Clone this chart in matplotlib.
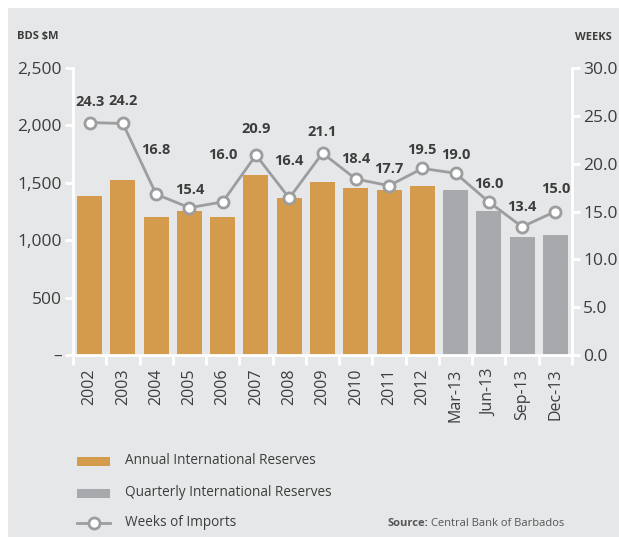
"""International reserves and weeks of import cover, 2002 - Dec 2013."""

import numpy as np
import matplotlib.pyplot as plt
from matplotlib.patches import Rectangle
from matplotlib.ticker import FixedLocator, FuncFormatter

# data
periods = ['2002', '2003', '2004', '2005', '2006', '2007', '2008', '2009',
           '2010', '2011', '2012', 'Mar-13', 'Jun-13', 'Sep-13', 'Dec-13']
reserves = [1385, 1524, 1205, 1254, 1205, 1568, 1370, 1507,
            1457, 1437, 1472, 1437, 1254, 1030, 1048]
is_quarterly = [False] * 11 + [True] * 4
weeks = [24.3, 24.2, 16.8, 15.4, 16.0, 20.9, 16.4, 21.1,
         18.4, 17.7, 19.5, 19.0, 16.0, 13.4, 15.0]
# label offsets (points above the marker), some lifted clear of the line
label_offsets = [10, 11, 27, 8, 29, 14, 22, 10, 9, 7, 8, 8, 8, 9, 11]

BG = '#E6E7E8'
ORANGE = '#D49B4C'
GREY_BAR = '#A8A9AC'
LINE = '#9C9D9F'
TEXT = '#3D3D3D'

plt.rcParams['font.family'] = ['Open Sans', 'DejaVu Sans']

fig = plt.figure(figsize=(6.19, 5.37), dpi=100, facecolor='white')
# grey panel (white strip at top/left as in the source page)
fig.patches.append(Rectangle((8 / 619, 0), 1, 1 - 8 / 537,
                             transform=fig.transFigure, facecolor=BG,
                             edgecolor='none', zorder=-1))

ax = fig.add_axes([73 / 619, 1 - 355 / 537, 499 / 619, 287 / 537])
ax.set_facecolor('none')
x = np.arange(len(periods))
colors = [GREY_BAR if q else ORANGE for q in is_quarterly]
ax.bar(x, reserves, width=0.75, color=colors, zorder=2)

ax.set_xlim(-0.5, len(periods) - 0.5)
ax.set_ylim(0, 2500)
ax.yaxis.set_major_locator(FixedLocator([0, 500, 1000, 1500, 2000, 2500]))
ax.yaxis.set_major_formatter(FuncFormatter(
    lambda v, p: '–' if v == 0 else f'{v:,.0f}'))
ax.set_xticks(x)
ax.set_xticklabels(periods, rotation=90)
ax.xaxis.set_minor_locator(FixedLocator(np.arange(-0.5, len(periods), 1.0)))
ax.tick_params(axis='x', which='major', length=0, pad=10,
               labelsize=11.5, labelcolor=TEXT)
ax.tick_params(axis='x', which='minor', length=7, width=2, color='white',
               direction='out')
ax.tick_params(axis='y', length=6, width=2, color='white', pad=2,
               labelsize=12.5, labelcolor=TEXT)

for side in ['top', 'right']:
    ax.spines[side].set_visible(False)
for side in ['left', 'bottom']:
    ax.spines[side].set_color('white')
    ax.spines[side].set_linewidth(2)

# weeks of imports on the right axis
ax2 = ax.twinx()
ax2.set_ylim(0, 30)
ax2.yaxis.set_major_locator(FixedLocator(np.arange(0, 31, 5)))
ax2.yaxis.set_major_formatter(FuncFormatter(lambda v, p: f'{v:.1f}'))
ax2.tick_params(axis='y', length=6, width=2, color='white', pad=2,
                labelsize=12.5, labelcolor=TEXT)
for side in ['top', 'left', 'bottom']:
    ax2.spines[side].set_visible(False)
ax2.spines['right'].set_color('white')
ax2.spines['right'].set_linewidth(2)

ax2.plot(x, weeks, color=LINE, linewidth=2, marker='o', markersize=8,
         markerfacecolor='white', markeredgecolor=LINE, markeredgewidth=2,
         zorder=3)
for xi, w, off in zip(x, weeks, label_offsets):
    ax2.annotate(f'{w:.1f}', (xi, w), xytext=(0, off),
                 textcoords='offset points', ha='center', va='bottom',
                 fontsize=10.5, fontweight='bold', color=TEXT)

# axis titles
fig.text(17 / 619, 1 - 37 / 537, 'BDS $M', fontsize=8, fontweight='bold',
         color=TEXT, va='center', ha='left')
fig.text(612 / 619, 1 - 37 / 537, 'WEEKS', fontsize=8, fontweight='bold',
         color=TEXT, va='center', ha='right')

# legend drawn by hand to follow the source layout
legend_rows = [(461, 'bar', ORANGE, 'Annual International Reserves'),
               (493, 'bar', GREY_BAR, 'Quarterly International Reserves'),
               (523, 'line', LINE, 'Weeks of Imports')]
for y, kind, col, label in legend_rows:
    yf = 1 - y / 537
    if kind == 'bar':
        fig.patches.append(Rectangle((77 / 619, yf - 4.5 / 537), 33 / 619,
                                     9 / 537, transform=fig.transFigure,
                                     facecolor=col, edgecolor='none'))
    else:
        fig.add_artist(plt.Line2D([77 / 619, 110 / 619], [yf, yf],
                                  transform=fig.transFigure, color=col,
                                  linewidth=2))
        fig.add_artist(plt.Line2D([93.5 / 619], [yf],
                                  transform=fig.transFigure, color=col,
                                  linestyle='none', marker='o', markersize=8,
                                  markerfacecolor='white',
                                  markeredgecolor=col, markeredgewidth=2))
    fig.text(125 / 619, yf, label, fontsize=9.8, color=TEXT,
             va='center', ha='left')

fig.text(388 / 619, 1 - 523 / 537, 'Source:', fontsize=8, fontweight='bold',
         color='#555555', va='center', ha='left')
fig.text(431 / 619, 1 - 523 / 537, 'Central Bank of Barbados', fontsize=8,
         color='#555555', va='center', ha='left')

fig.savefig('out.png', dpi=100, facecolor=fig.get_facecolor())
